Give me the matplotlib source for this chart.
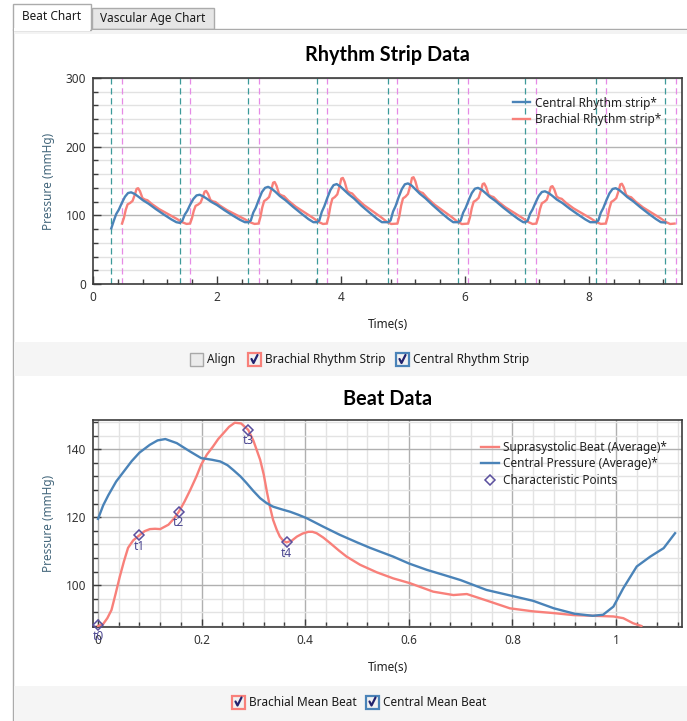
import matplotlib
matplotlib.use("Agg")
import matplotlib.pyplot as plt
from matplotlib.patches import Rectangle
from matplotlib.ticker import MultipleLocator

plt.rcParams['font.family'] = ['Noto Sans', 'DejaVu Sans']

W, H = 687, 721

# ---- rhythm strip data ----
central_starts = [0.295, 1.40, 2.505, 3.61, 4.76, 5.89, 6.97, 8.11]
central_end = (9.23, 89.5)
central_rel = [0.00, 0.04, 0.08, 0.12, 0.17, 0.22, 0.27, 0.32, 0.38, 0.44, 0.51, 0.60, 0.72, 0.85, 0.97, 1.05]
central_beats = [
    [81, 92, 102, 108, 118, 127, 132.5, 133.5, 131, 127, 122, 117, 109, 101, 94, 90],
    [89, 92, 101, 106.5, 116, 124, 129, 130, 127.5, 124, 119.5, 115, 107.5, 100, 93.5, 90],
    [90, 92.4, 104, 111, 123, 134, 140, 141.5, 138.5, 134, 128, 122, 112.5, 103, 94.5, 90],
    [90, 92.5, 105, 113, 125.5, 137, 144, 145.5, 142, 137, 131, 124.5, 114, 104, 95, 90],
    [90, 92.6, 105.6, 113.4, 126.4, 138, 145.2, 146.5, 143.3, 138, 131.6, 125, 114.7, 104.3, 95.2, 90],
    [90, 92.3, 103.8, 110.7, 122.2, 132.5, 138.8, 140, 137.1, 132.5, 126.8, 121, 111.8, 102.6, 94.6, 90],
    [90, 92, 102.4, 108.6, 119, 128.3, 134, 135, 132.4, 128.3, 123, 118, 109.6, 101.4, 94.1, 90],
    [90, 92.3, 103.7, 110.5, 121.9, 132.1, 138.4, 139.5, 136.7, 132.1, 126.4, 120.7, 111.6, 102.5, 94.6, 90],
]

brachial_starts = [0.468, 1.565, 2.67, 3.77, 4.91, 6.05, 7.15, 8.27]
brachial_end = (9.38, 88.0)
brachial_rel = [0.00, 0.03, 0.06, 0.09, 0.13, 0.17, 0.21, 0.235, 0.26, 0.29, 0.33, 0.37, 0.41, 0.48, 0.60, 0.75, 0.88, 0.97, 1.04]
brachial_beats = [
    [88, 96, 108, 116, 118, 121, 131, 138.5, 139.5, 135, 125, 123, 122, 116.5, 109, 101.5, 95, 90, 87.5],
    [88, 95.4, 106.5, 113.8, 115.7, 118.5, 127.7, 134.5, 135.5, 131.4, 122.2, 120.3, 119.4, 114.3, 107.4, 100.5, 94.5, 89.8, 87.5],
    [88, 97.4, 111.5, 120.8, 123.2, 126.7, 138.4, 147.5, 148.5, 143.1, 131.4, 129.1, 127.9, 121.4, 112.6, 103.8, 96.2, 90.3, 87.4],
    [88, 98.3, 113.8, 124.1, 126.6, 130.5, 143.4, 153.5, 154.5, 148.5, 135.7, 133.1, 131.8, 124.7, 115, 105.4, 97, 90.6, 87.4],
    [88, 98.5, 114.2, 124.6, 127.2, 131.2, 144.2, 154.5, 155.5, 149.5, 136.4, 133.8, 132.5, 125.3, 115.5, 105.7, 97.2, 90.6, 87.3],
    [88, 97.1, 110.7, 119.8, 122, 125.5, 136.8, 145.5, 146.5, 141.3, 130, 127.7, 126.6, 120.3, 111.8, 103.3, 95.9, 90.3, 87.4],
    [88, 96.5, 109.2, 117.6, 119.7, 122.9, 133.5, 141.5, 142.5, 137.7, 127.1, 125, 124, 118.1, 110.2, 102.3, 95.4, 90.1, 87.5],
    [88, 97, 110.5, 119.5, 121.8, 125.1, 136.4, 145, 146, 140.9, 129.6, 127.4, 126.3, 120.1, 111.6, 103.2, 95.9, 90.3, 87.4],
]

central_marks = [0.295, 1.40, 2.505, 3.61, 4.76, 5.89, 6.97, 8.11, 9.23]
brachial_marks = [0.468, 1.565, 2.67, 3.77, 4.91, 6.05, 7.15, 8.27, 9.40]

# ---- mean beat data ----
central_t = [0.0, 0.01, 0.02, 0.035, 0.05, 0.065, 0.08, 0.10, 0.115, 0.13, 0.152, 0.178, 0.199,
             0.22, 0.236, 0.25, 0.261, 0.275, 0.287, 0.30, 0.313, 0.325, 0.338, 0.355, 0.371,
             0.387, 0.403, 0.435, 0.467, 0.50, 0.525, 0.57, 0.60, 0.635, 0.67, 0.70, 0.75,
             0.795, 0.84, 0.88, 0.92, 0.955, 0.975, 0.995, 1.014, 1.04, 1.066, 1.092, 1.114]
central_p = [119.5, 123.5, 126.5, 130.5, 133.5, 136.5, 139.0, 141.3, 142.6, 143.0, 141.8, 139.3, 137.4,
             136.9, 136.4, 135.3, 133.9, 132.0, 130.0, 127.7, 125.6, 124.2, 123.1, 122.3, 121.6,
             120.7, 119.7, 117.2, 114.8, 112.6, 111.0, 108.4, 106.4, 104.5, 102.9, 101.5, 98.6,
             97.0, 95.4, 93.2, 91.6, 91.0, 91.3, 93.7, 99.1, 105.5, 108.4, 110.9, 115.3]

supra_t = [0.0, 0.01, 0.018, 0.026, 0.034, 0.042, 0.05, 0.058, 0.068, 0.080, 0.09, 0.10, 0.11, 0.12,
           0.136, 0.146, 0.156, 0.167, 0.178, 0.19, 0.199, 0.21, 0.222, 0.232, 0.242, 0.253, 0.264,
           0.276, 0.29, 0.30, 0.313, 0.32, 0.326, 0.332, 0.338, 0.345, 0.351, 0.358, 0.364, 0.374,
           0.384, 0.395, 0.406, 0.414, 0.422, 0.435, 0.448, 0.465, 0.48, 0.506, 0.538, 0.57, 0.602,
           0.647, 0.686, 0.712, 0.75, 0.795, 0.84, 0.879, 0.918, 0.956, 0.995, 1.014, 1.033, 1.049]
supra_p = [88.0, 88.6, 90.3, 92.7, 97.5, 102.5, 107.0, 111.0, 113.2, 114.7, 115.9, 116.5, 116.6, 116.5,
           117.8, 119.5, 121.6, 124.6, 128.0, 132.0, 135.4, 138.4, 140.8, 143.0, 144.7, 146.6, 147.8,
           147.6, 145.7, 142.5, 136.9, 132.5, 127.5, 123.0, 119.2, 116.3, 114.3, 113.0, 112.6, 113.1,
           114.3, 115.2, 115.7, 115.7, 115.3, 114.0, 112.4, 110.2, 108.4, 106.0, 103.8, 102.0, 100.6,
           98.1, 97.1, 97.4, 95.5, 93.2, 92.3, 91.8, 91.2, 91.0, 90.8, 90.3, 88.8, 88.0]

char_names = ['t0', 't1', 't2', 't3', 't4']
char_t = [0.0, 0.080, 0.156, 0.290, 0.364]
char_p = [88.2, 114.7, 121.6, 145.7, 112.6]

BLUE = '#4a83b8'
RED = '#f8807a'
TEAL = '#3d9a9a'
PINK = '#e68ae6'
PURPLE = '#5a4f9e'
TITLE_FONT = ['Lato', 'DejaVu Sans']


def strip(starts, rel, beats, end):
    xs, ys = [], []
    for s, vals in zip(starts, beats):
        for r, v in zip(rel, vals):
            xs.append(s + r)
            ys.append(v)
    xs.append(end[0])
    ys.append(end[1])
    return xs, ys


fig = plt.figure(figsize=(W / 100, H / 100), dpi=100)
fig.patch.set_facecolor('white')

# ---- window chrome ----
bg = fig.add_axes([0, 0, 1, 1], zorder=-5)
bg.set_xlim(0, W)
bg.set_ylim(H, 0)
bg.axis('off')
bg.add_patch(Rectangle((92, 8), 122, 21, facecolor='#e6e6e6', edgecolor='#ababab', lw=1))
bg.add_patch(Rectangle((13, 29), W, H, facecolor='white', edgecolor='#ababab', lw=1))
bg.add_patch(Rectangle((14, 29.5), W, 4, facecolor='#f3f3f3', edgecolor='none'))
bg.add_patch(Rectangle((13, 4), 78, 26, facecolor='white', edgecolor='#ababab', lw=1))
bg.add_patch(Rectangle((13.6, 28), 76.8, 3, facecolor='white', edgecolor='none'))
bg.text(52, 17, 'Beat Chart', ha='center', va='center', fontsize=8.5, color='#1a1a1a')
bg.text(153, 18.5, 'Vascular Age Chart', ha='center', va='center', fontsize=8.5, color='#1a1a1a')

bg.add_patch(Rectangle((14, 342), W, 34, facecolor='#f5f5f5', edgecolor='none'))
bg.add_patch(Rectangle((14, 686), W, 35, facecolor='#f5f5f5', edgecolor='none'))


def checkbox(x, y, label, edge, checked):
    bg.add_patch(Rectangle((x, y - 6.5), 13, 13, facecolor='#f2f2f2' if checked else '#ebebeb',
                           edgecolor=edge, lw=1.6 if checked else 1.0))
    if checked:
        bg.plot([x + 3.5, x + 5.5, x + 9.5], [y - 0.5, y + 3.5, y - 4.5], color='#23236e', lw=1.6,
                solid_capstyle='round')
    bg.text(x + 17, y, label, ha='left', va='center', fontsize=8.5, color='#1a1a1a')


checkbox(190, 359.5, 'Align', '#a8a8a8', False)
checkbox(248, 359.5, 'Brachial Rhythm Strip', RED, True)
checkbox(396, 359.5, 'Central Rhythm Strip', BLUE, True)
checkbox(232, 702, 'Brachial Mean Beat', RED, True)
checkbox(366, 702, 'Central Mean Beat', BLUE, True)

fig.text(387.5 / W, 1 - 55 / H, 'Rhythm Strip Data', ha='center', va='center', fontsize=14.3,
         fontweight='bold', family=TITLE_FONT, color='black')
fig.text(387.5 / W, 1 - 399 / H, 'Beat Data', ha='center', va='center', fontsize=14.3,
         fontweight='bold', family=TITLE_FONT, color='black')


def style(ax):
    for sp in ax.spines.values():
        sp.set_color('#3c3c3c')
        sp.set_linewidth(1.2)
    ax.tick_params(which='both', direction='in', colors='#3c3c3c', labelcolor='#333333',
                   labelsize=8.5, top=False, right=False)
    ax.tick_params(which='major', length=6, width=1, pad=5)
    ax.tick_params(which='minor', length=3.5, width=1)
    ax.set_ylabel('Pressure (mmHg)', fontsize=8.5, color='#44677c')
    ax.set_xlabel('Time(s)', fontsize=8.5, color='#222222')


# ---- top chart ----
ax1 = fig.add_axes([93 / W, 1 - 284 / H, 589 / W, 206 / H])
cx, cy = strip(central_starts, central_rel, central_beats, central_end)
bx, by = strip(brachial_starts, brachial_rel, brachial_beats, brachial_end)
ax1.plot(cx, cy, color=BLUE, lw=1.7, label='Central Rhythm strip*', zorder=4)
ax1.plot(bx, by, color=RED, lw=1.7, label='Brachial Rhythm strip*', zorder=3)
for m in central_marks:
    ax1.axvline(m, color=TEAL, lw=0.9, ls=(0, (5, 3)), zorder=2)
for m in brachial_marks:
    ax1.axvline(m, color=PINK, lw=0.9, ls=(0, (5, 3)), zorder=2)
ax1.set_xlim(0, 9.5)
ax1.set_ylim(0, 300)
ax1.xaxis.set_major_locator(MultipleLocator(2))
ax1.xaxis.set_minor_locator(MultipleLocator(0.4))
ax1.yaxis.set_major_locator(MultipleLocator(100))
ax1.yaxis.set_minor_locator(MultipleLocator(20))
ax1.grid(which='major', axis='y', color='#b4b4b4', lw=1)
ax1.grid(which='minor', axis='y', color='#e2e2e2', lw=1)
ax1.set_axisbelow(True)
style(ax1)
ax1.yaxis.set_label_coords((55 - 93) / 589, 0.5)
ax1.xaxis.set_label_coords(0.5, (284 - 318) / 206)
ax1.legend(loc='upper right', bbox_to_anchor=(0.965, 0.91), frameon=False, fontsize=8.5,
           handlelength=1.5, handletextpad=0.4, labelspacing=0.3, borderpad=0, borderaxespad=0,
           labelcolor='#222222')

# ---- bottom chart ----
ax2 = fig.add_axes([93 / W, 1 - 627 / H, 589 / W, 207 / H])
ax2.plot(supra_t, supra_p, color=RED, lw=1.7, label='Suprasystolic Beat (Average)*', zorder=3)
ax2.plot(central_t, central_p, color=BLUE, lw=1.7, label='Central Pressure (Average)*', zorder=4)
ax2.plot(char_t, char_p, ls='none', marker='D', ms=5, mfc='none', mec=PURPLE, mew=1.1,
         label='Characteristic Points', zorder=5, clip_on=False)
for name, t, p in zip(char_names, char_t, char_p):
    ax2.annotate(name, (t, p), xytext=(0, -11), textcoords='offset pixels', ha='center',
                 va='center', fontsize=8.5, color='#4a4590', annotation_clip=False, zorder=6)
ax2.set_xlim(-0.0097, 1.1274)
ax2.set_ylim(87.7, 148.6)
ax2.xaxis.set_major_locator(MultipleLocator(0.2))
ax2.xaxis.set_minor_locator(MultipleLocator(0.04))
ax2.yaxis.set_major_locator(MultipleLocator(20))
ax2.yaxis.set_minor_locator(MultipleLocator(4))
ax2.xaxis.set_major_formatter(lambda v, pos: '%g' % round(v, 2))
ax2.grid(which='major', color='#b0b0b0', lw=1)
ax2.grid(which='minor', color='#e3e3e3', lw=1)
ax2.set_axisbelow(True)
style(ax2)
ax2.yaxis.set_label_coords((55 - 93) / 589, 0.5)
ax2.xaxis.set_label_coords(0.5, (627 - 661) / 207)
ax2.legend(loc='upper right', bbox_to_anchor=(0.975, 0.9), frameon=False, fontsize=8.5,
           handlelength=1.5, handletextpad=0.4, labelspacing=0.3, borderpad=0, borderaxespad=0,
           labelcolor='#222222')

fig.savefig('out.png', dpi=100)
